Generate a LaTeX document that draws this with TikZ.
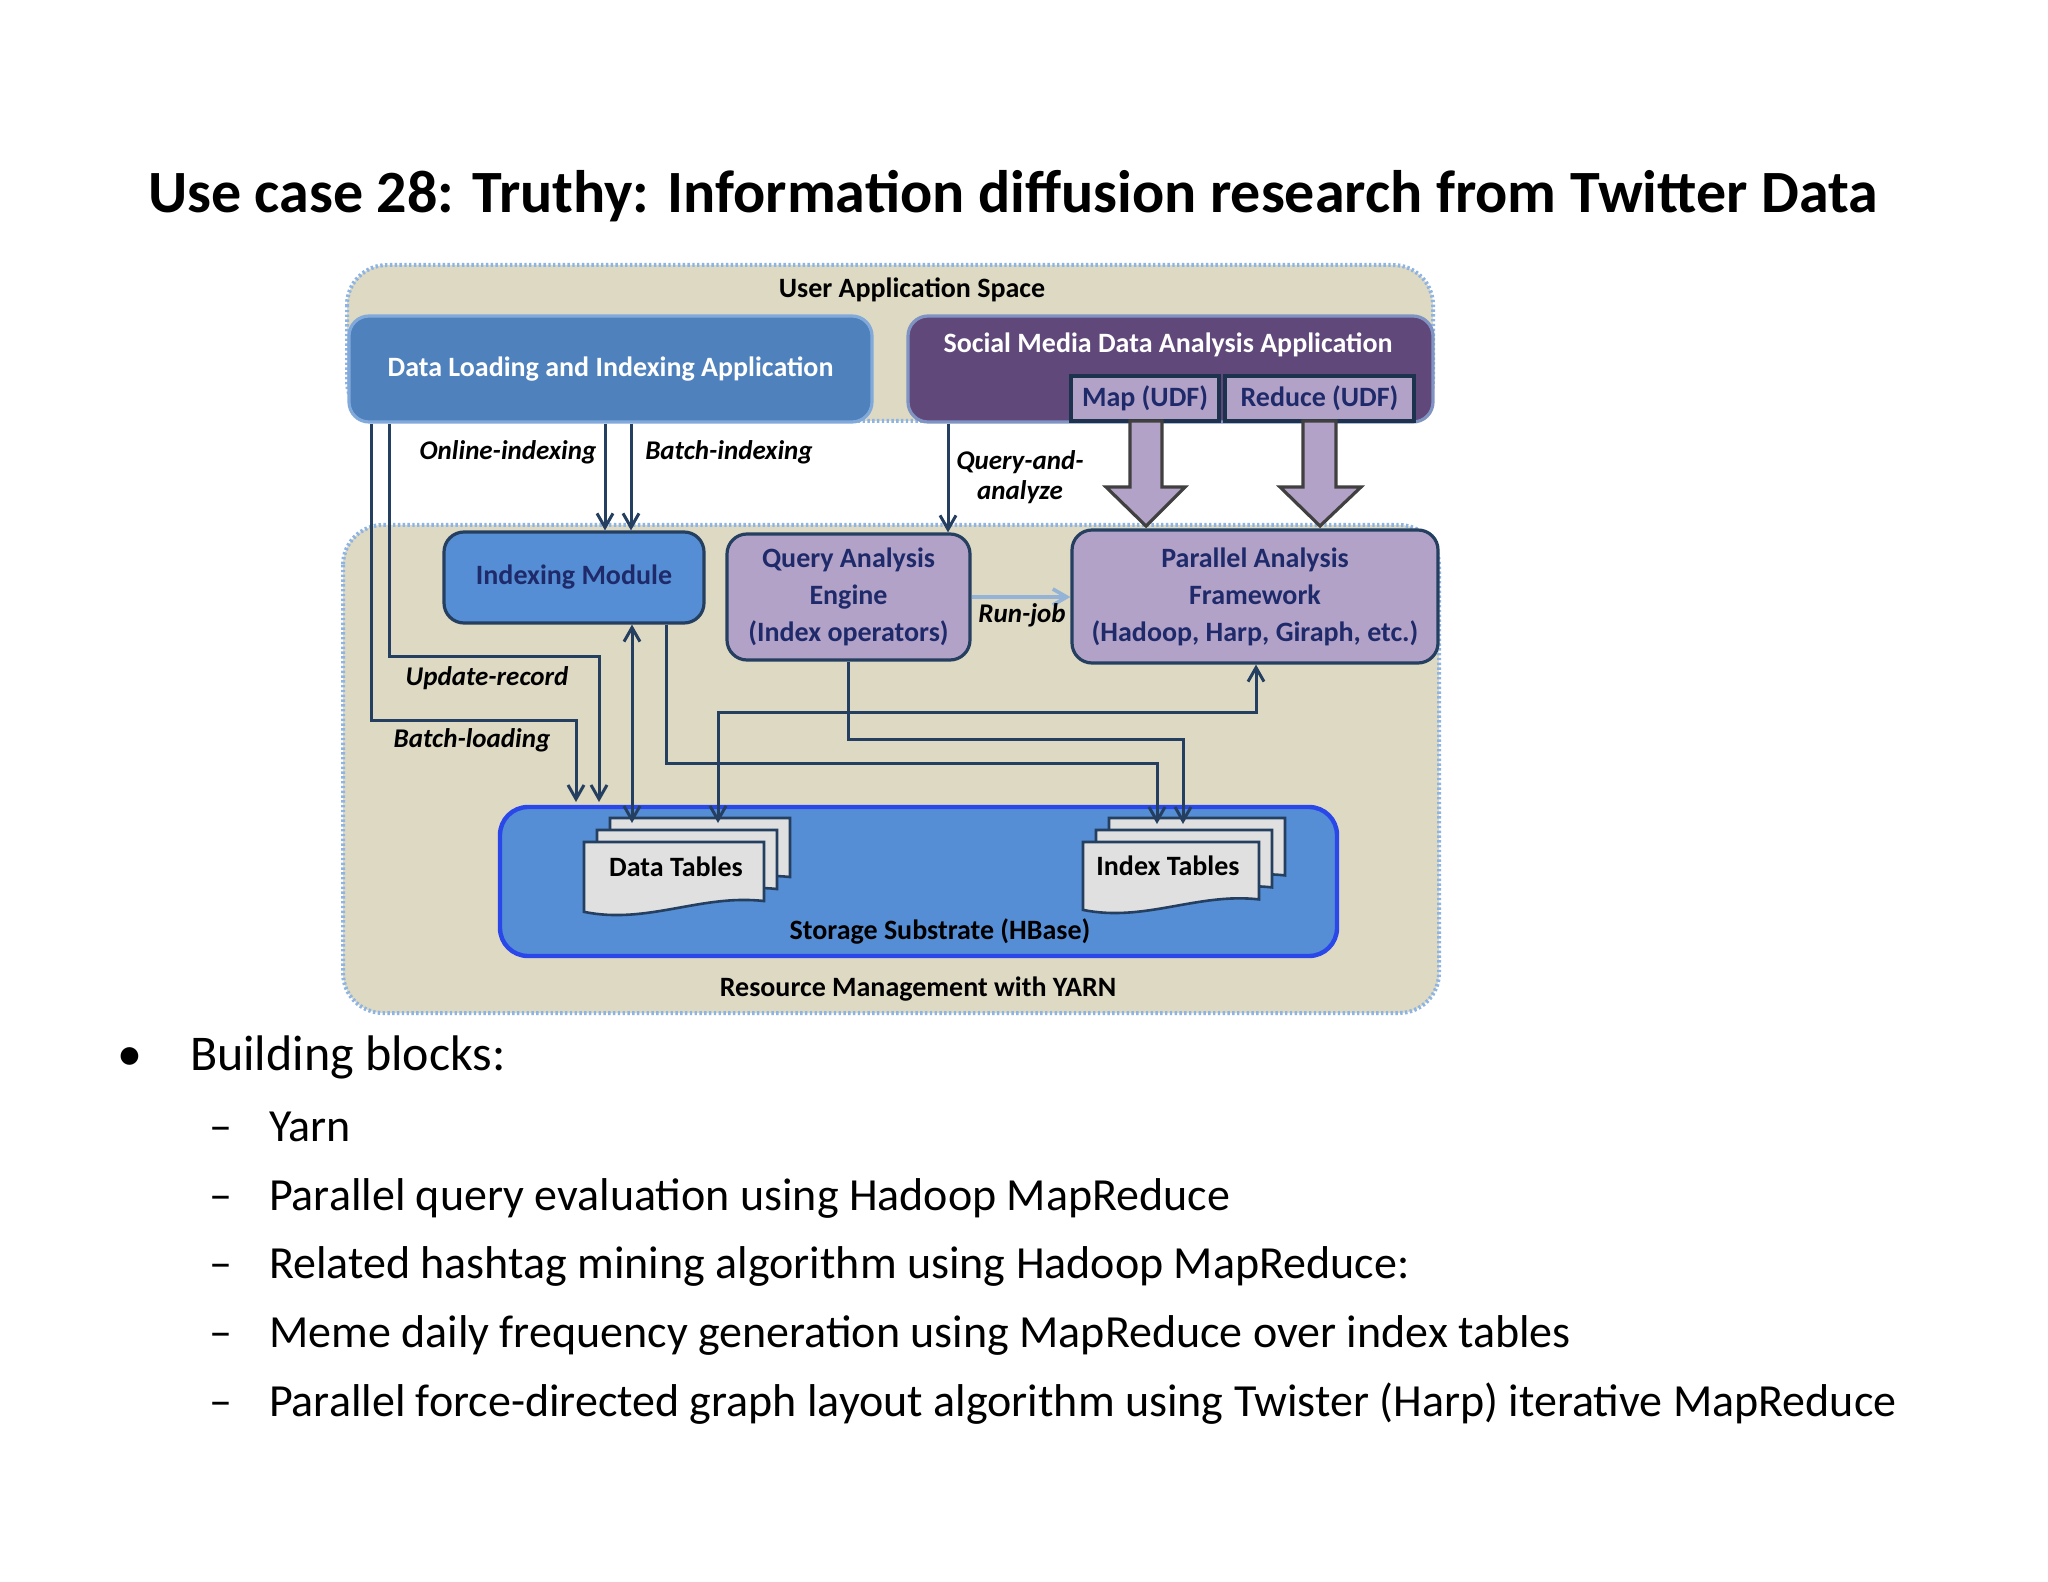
\documentclass[tikz,border=0pt]{standalone}
\usepackage{fontspec}
\setmainfont{Carlito}
\usetikzlibrary{arrows.meta,calc}
\definecolor{beige}{HTML}{DDD9C3}
\definecolor{dotblue}{HTML}{8EB4E3}
\definecolor{appblue}{HTML}{4F81BD}
\definecolor{modblue}{HTML}{558ED5}
\definecolor{purp}{HTML}{60497A}
\definecolor{lilac}{HTML}{B3A2C7}
\definecolor{navy}{HTML}{243F60}
\definecolor{txtnavy}{HTML}{1F2A6B}
\definecolor{runblue}{HTML}{95B3D7}
\tikzset{
  region/.style={fill=beige,draw=dotblue,line width=2pt,dash pattern=on 1.2pt off 1.2pt,rounded corners=20pt},
  box/.style={rounded corners=10pt,line width=1.6pt,align=center,inner sep=0pt},
  bluebox/.style={box,fill=appblue,draw=dotblue!80!appblue},
  modbox/.style={box,fill=modblue,draw=navy},
  lilbox/.style={box,fill=lilac,draw=navy,text=txtnavy},
  udf/.style={fill=lilac,draw=navy!80!black,line width=1.6pt,inner sep=0pt,text=txtnavy},
  conn/.style={draw=navy,line width=1.5pt,-{Straight Barb[length=7pt,width=8pt]}},
  lbl/.style={font=\fontsize{13.5}{15}\selectfont\bfseries\itshape},
  docpg/.style={fill=black!12,draw=navy,line width=1.3pt},
  bigarrow/.style={fill=lilac,draw=black!75,line width=1.6pt},
}
\newcommand\docpage[4]{\filldraw[docpg] (#1,#2) -- (#1+#3,#2) -- (#1+#3,#2+#4*0.82) .. controls (#1+#3*0.65,#2+#4*0.72) and (#1+#3*0.35,#2+#4*1.15) .. (#1,#2+#4*0.97) -- cycle;}
\begin{document}
\begin{tikzpicture}[x=0.5pt,y=-0.5pt]
\useasboundingbox[fill=white] (0,0) rectangle (2048,1582);
% title
\node[font=\fontsize{30}{34}\selectfont\bfseries] (title) at (1013,196) {Use case 28: Truthy: Information diffusion research from Twitter Data};
% regions
\path[region] (347,265) rectangle (1433,421);
\path[region] (343,525) rectangle (1439,1013);
\node[font=\fontsize{14}{16}\selectfont\bfseries] (uas) at (912,290) {User Application Space};
\node[font=\fontsize{14}{16}\selectfont\bfseries] (rm) at (918,989) {Resource Management with YARN};
% app boxes
\node[bluebox,minimum width=523pt*0.5,minimum height=106pt*0.5,text=white,font=\fontsize{14}{16}\selectfont\bfseries] (dl) at (610.5,369) {Data Loading and Indexing Application};
\node[box,fill=purp,draw=dotblue!70!purp,minimum width=525pt*0.5,minimum height=106pt*0.5] (sm) at (1170.5,369) {};
\node[text=white,font=\fontsize{14}{16}\selectfont\bfseries] (smt) at (1168,345) {Social Media Data Analysis Application};
\node[udf,minimum width=148pt*0.5,minimum height=45pt*0.5,font=\fontsize{14}{16}\selectfont\bfseries] (map) at (1145,398.5) {Map (UDF)};
\node[udf,minimum width=189pt*0.5,minimum height=45pt*0.5,font=\fontsize{14}{16}\selectfont\bfseries] (red) at (1319.5,398.5) {Reduce (UDF)};
% modules
\node[modbox,minimum width=260pt*0.5,minimum height=91pt*0.5,text=txtnavy,font=\fontsize{14}{16}\selectfont\bfseries] (im) at (574,577.5) {Indexing Module};
\node[lilbox,minimum width=243pt*0.5,minimum height=126pt*0.5,font=\fontsize{14}{18.5}\selectfont\bfseries] (qa) at (848.5,597) {Query Analysis\\Engine\\(Index operators)};
\node[lilbox,minimum width=366pt*0.5,minimum height=133pt*0.5,font=\fontsize{14}{18.5}\selectfont\bfseries] (pa) at (1255,596.5) {Parallel Analysis\\Framework\\(Hadoop, Harp, Giraph, etc.)};
% big arrows
\filldraw[bigarrow] (1130,421) -- (1162,421) -- (1162,487) -- (1185,487) -- (1146,526) -- (1106,487) -- (1130,487) -- cycle;
\filldraw[bigarrow] (1303,421) -- (1336,421) -- (1336,487) -- (1361,487) -- (1320,526) -- (1280,487) -- (1303,487) -- cycle;
% storage
\node[box,fill=modblue,draw=blue!50!modblue,line width=2.2pt,rounded corners=14pt,minimum width=837pt*0.5,minimum height=149pt*0.5] (ss) at (918.5,881.5) {};
\node[font=\fontsize{14}{16}\selectfont\bfseries] (sst) at (940,931) {Storage Substrate (HBase)};
% docs
\docpage{610}{818}{180}{72}
\docpage{597}{830}{180}{72}
\docpage{584}{842}{180}{72}
\node[font=\fontsize{14}{16}\selectfont\bfseries] (dt) at (676,867) {Data Tables};
\docpage{1109}{818}{176}{70}
\docpage{1096}{830}{176}{70}
\docpage{1083}{842}{176}{70}
\node[font=\fontsize{14}{16}\selectfont\bfseries] (it) at (1168,866) {Index Tables};
\coordinate (dtop1) at (576,802);
\coordinate (dtop2) at (599,802);
\coordinate (dtop3) at (632,823);
\coordinate (dtop4) at (718,823);
\coordinate (itop1) at (1157,824);
\coordinate (itop2) at (1183,824);
% connectors
\draw[conn] (dl.south -| 371,0) |- (576,720) -- (dtop1);
\draw[conn] (dl.south -| 389,0) |- (599,656) -- (dtop2);
\draw[conn] (dl.south -| 605,0) -- (im.north -| 605,0);
\draw[conn] (dl.south -| 631,0) -- (im.north -| 631,0);
\draw[conn,{Straight Barb[length=7pt,width=8pt]}-{Straight Barb[length=7pt,width=8pt]}] (im.south -| 632,0) -- (dtop3);
\draw[conn] (im.south -| 666,0) |- (1157,763) -- (itop1);
\draw[conn] (qa.south) |- (1183,739) -- (itop2);
\draw[conn,{Straight Barb[length=7pt,width=8pt]}-{Straight Barb[length=7pt,width=8pt]}] (dtop4) |- (1256,712) -- (pa.south -| 1256,0);
\draw[conn] (sm.south -| 948,0) -- (qa.north -| 948,0);
\draw[draw=runblue,line width=1.8pt,-{Straight Barb[length=7pt,width=8pt]}] (qa.east |- 0,597) -- (pa.west |- 0,597);
% labels
\node[lbl] (l1) at (508,452) {Online-indexing};
\node[lbl] (l2) at (729,452) {Batch-indexing};
\node[lbl,align=center] (l3) at (1020,477) {Query-and-\\analyze};
\node[lbl] (l4) at (1022,615) {Run-job};
\node[lbl] (l5) at (487,678) {Update-record};
\node[lbl] (l6) at (472,740) {Batch-loading};
% bullets
\node[font=\fontsize{25}{28}\selectfont,anchor=base west] (b0) at (110,1070) {•};
\node[font=\fontsize{25}{28}\selectfont,anchor=base west] (bb) at (183,1070) {Building blocks:};
\foreach \yy/\tt in {1141/Yarn,1210/Parallel query evaluation using Hadoop MapReduce,1278/Related hashtag mining algorithm using Hadoop MapReduce:,1347/Meme daily frequency generation using MapReduce over index tables,1416/Parallel force-directed graph layout algorithm using Twister (Harp) iterative MapReduce}{
  \node[font=\fontsize{23}{26}\selectfont,anchor=base west] at (202,\yy) {–};
  \node[font=\fontsize{23}{26}\selectfont,anchor=base west] at (262,\yy) {\tt};
}
\end{tikzpicture}
\end{document}
